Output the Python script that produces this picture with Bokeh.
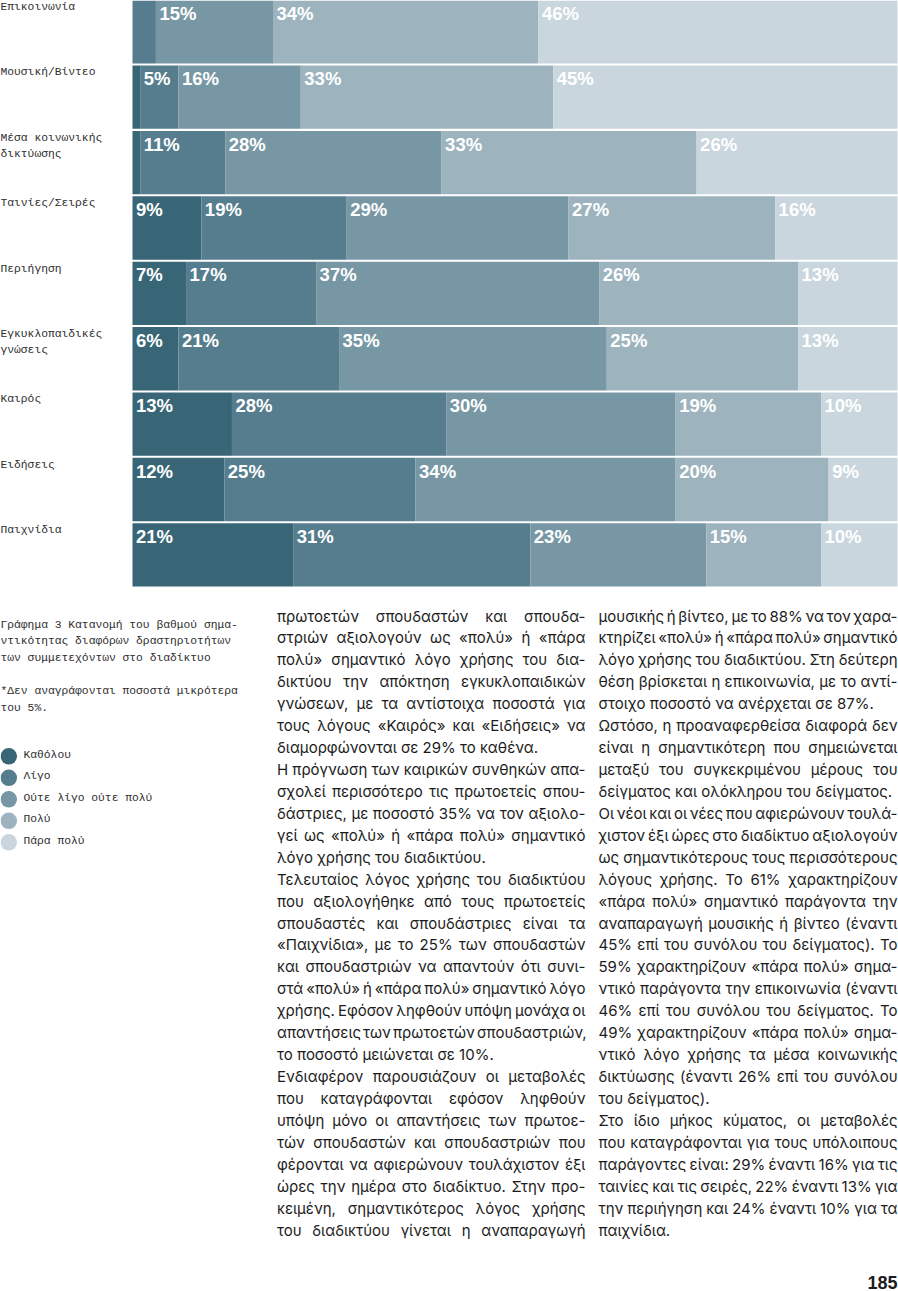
import glob
import os
import numpy as np
from bokeh.plotting import figure
from bokeh.models import Range1d
from bokeh.core.properties import value
from bokeh.embed import file_html
from bokeh.resources import INLINE

# ---------------- data ----------------
categories = ["Επικοινωνία", "Μουσική/Βίντεο", "Μέσα κοινωνικής\nδικτύωσης",
              "Ταινίες/Σειρές", "Περιήγηση", "Εγκυκλοπαιδικές\nγνώσεις",
              "Καιρός", "Ειδήσεις", "Παιχνίδια"]
levels = ["Καθόλου", "Λίγο", "Ούτε λίγο ούτε πολύ", "Πολύ", "Πάρα πολύ"]
not_at_all = [0, 1, 1, 9, 7, 6, 13, 12, 21]
a_little = [3, 5, 11, 19, 17, 21, 28, 25, 31]
neither = [15, 16, 28, 29, 37, 35, 30, 34, 23]
much = [34, 33, 33, 27, 26, 25, 19, 20, 15]
very_much = [46, 45, 26, 16, 13, 13, 10, 9, 10]
colors = ["#386677", "#567d8d", "#7897a4", "#9db3be", "#c9d6de"]
min_label = 5

caption_lines = ["Γράφημα 3 Κατανομή του βαθμού σημα-",
                 "ντικότητας διαφόρων δραστηριοτήτων",
                 "των συμμετεχόντων στο διαδίκτυο",
                 "",
                 "*Δεν αναγράφονται ποσοστά μικρότερα",
                 "του 5%."]

col1_paragraphs = [
    ["πρωτοετών σπουδαστών και σπουδα-",
     "στριών αξιολογούν ως «πολύ» ή «πάρα",
     "πολύ» σημαντικό λόγο χρήσης του δια-",
     "δικτύου την απόκτηση εγκυκλοπαιδικών",
     "γνώσεων, με τα αντίστοιχα ποσοστά για",
     "τους λόγους «Καιρός» και «Ειδήσεις» να",
     "διαμορφώνονται σε 29% το καθένα."],
    ["Η πρόγνωση των καιρικών συνθηκών απα-",
     "σχολεί περισσότερο τις πρωτοετείς σπου-",
     "δάστριες, με ποσοστό 35% να τον αξιολο-",
     "γεί ως «πολύ» ή «πάρα πολύ» σημαντικό",
     "λόγο χρήσης του διαδικτύου."],
    ["Τελευταίος λόγος χρήσης του διαδικτύου",
     "που αξιολογήθηκε από τους πρωτοετείς",
     "σπουδαστές και σπουδάστριες είναι τα",
     "«Παιχνίδια», με το 25% των σπουδαστών",
     "και σπουδαστριών να απαντούν ότι συνι-",
     "στά «πολύ» ή «πάρα πολύ» σημαντικό λόγο",
     "χρήσης. Εφόσον ληφθούν υπόψη μονάχα οι",
     "απαντήσεις των πρωτοετών σπουδαστριών,",
     "το ποσοστό μειώνεται σε 10%."],
    ["Ενδιαφέρον παρουσιάζουν οι μεταβολές",
     "που καταγράφονται εφόσον ληφθούν",
     "υπόψη μόνο οι απαντήσεις των πρωτοε-",
     "τών σπουδαστών και σπουδαστριών που",
     "φέρονται να αφιερώνουν τουλάχιστον έξι",
     "ώρες την ημέρα στο διαδίκτυο. Στην προ-",
     "κειμένη, σημαντικότερος λόγος χρήσης",
     "του διαδικτύου γίνεται η αναπαραγωγή",
     None],  # paragraph continues in next column
]
col2_paragraphs = [
    ["μουσικής ή βίντεο, με το 88% να τον χαρα-",
     "κτηρίζει «πολύ» ή «πάρα πολύ» σημαντικό",
     "λόγο χρήσης του διαδικτύου. Στη δεύτερη",
     "θέση βρίσκεται η επικοινωνία, με το αντί-",
     "στοιχο ποσοστό να ανέρχεται σε 87%."],
    ["Ωστόσο, η προαναφερθείσα διαφορά δεν",
     "είναι η σημαντικότερη που σημειώνεται",
     "μεταξύ του συγκεκριμένου μέρους του",
     "δείγματος και ολόκληρου του δείγματος."],
    ["Οι νέοι και οι νέες που αφιερώνουν τουλά-",
     "χιστον έξι ώρες στο διαδίκτυο αξιολογούν",
     "ως σημαντικότερους τους περισσότερους",
     "λόγους χρήσης. Το 61% χαρακτηρίζουν",
     "«πάρα πολύ» σημαντικό παράγοντα την",
     "αναπαραγωγή μουσικής ή βίντεο (έναντι",
     "45% επί του συνόλου του δείγματος). Το",
     "59% χαρακτηρίζουν «πάρα πολύ» σημα-",
     "ντικό παράγοντα την επικοινωνία (έναντι",
     "46% επί του συνόλου του δείγματος. Το",
     "49% χαρακτηρίζουν «πάρα πολύ» σημα-",
     "ντικό λόγο χρήσης τα μέσα κοινωνικής",
     "δικτύωσης (έναντι 26% επί του συνόλου",
     "του δείγματος)."],
    ["Στο ίδιο μήκος κύματος, οι μεταβολές",
     "που καταγράφονται για τους υπόλοιπους",
     "παράγοντες είναι: 29% έναντι 16% για τις",
     "ταινίες και τις σειρές, 22% έναντι 13% για",
     "την περιήγηση και 24% έναντι 10% για τα",
     "παιχνίδια."],
]
page_number = "185"

# ---------------- geometry ----------------
W, H = 898, 1291
BAR_X0 = 132.0
PX_PER_PCT = 7.65
ROW_Y0 = 31.3
ROW_PITCH = 65.39
BAR_H = 0.969


def X(px):
    return (px - BAR_X0) / PX_PER_PCT


def Y(py):
    return (py - ROW_Y0) / ROW_PITCH


def fs(px):
    return f"{px:.2f}px"


p = figure(width=W, height=H,
           x_range=Range1d(X(0), X(W)),
           y_range=Range1d(Y(H), Y(0)),
           x_axis_type=None, y_axis_type=None,
           toolbar_location=None, output_backend="svg", min_border=0)
p.grid.visible = False
p.outline_line_color = None
p.background_fill_color = "white"
p.border_fill_color = "white"

# ---------------- bars ----------------
series = [not_at_all, a_little, neither, much, very_much]
vals = np.array(series, dtype=float)
totals = vals.sum(axis=0)
shares = vals / totals * 100.0
ends = np.cumsum(shares, axis=0)
starts = ends - shares
rows = np.arange(len(categories))

for j in range(len(series)):
    p.hbar(y=rows, left=starts[j], right=ends[j], height=BAR_H,
           fill_color=colors[j], line_color=None)

lx, ly, lt = [], [], []
for j in range(len(series)):
    for i in range(len(categories)):
        if vals[j, i] >= min_label:
            lx.append(starts[j, i])
            ly.append(i - BAR_H / 2 + 20.3 / ROW_PITCH)
            lt.append(f"{int(vals[j, i])}%")
p.text(x=lx, y=ly, text=lt, x_offset=3.5, y_offset=-7, text_color="white",
       text_font=value("Liberation Sans"), text_font_style="bold",
       text_font_size=fs(18.5), text_baseline="alphabetic", text_align="left")

MONO_DY = -5.5
# category labels (mono, top of row)
cx, cy, ct = [], [], []
for i, c in enumerate(categories):
    for k, line in enumerate(c.split("\n")):
        cx.append(X(0))
        cy.append(i - 0.5 + (13.4 + 16 * k) / ROW_PITCH)
        ct.append(line)
p.text(x=cx, y=cy, text=ct, y_offset=MONO_DY, text_color="#2e2e2e",
       text_font=value("Liberation Mono"), text_font_size=fs(11.3),
       text_baseline="alphabetic", text_align="left")

# ---------------- caption ----------------
capx, capy, capt = [], [], []
for k, line in enumerate(caption_lines):
    if line:
        capx.append(X(0))
        capy.append(Y(629.5 + 16.7 * k))
        capt.append(line)
p.text(x=capx, y=capy, text=capt, y_offset=MONO_DY, text_color="#2e2e2e",
       text_font=value("Liberation Mono"), text_font_size=fs(11.3),
       text_baseline="alphabetic", text_align="left")

# ---------------- legend ----------------
leg_y = [Y(755.8 + 21.5 * j) for j in range(len(levels))]
p.scatter(x=[X(8.3)] * len(levels), y=leg_y, marker="circle",
          size=16.5, fill_color=colors, line_color=None)
p.text(x=[X(23)] * len(levels), y=[Y(759.6 + 21.5 * j) for j in range(len(levels))],
       text=levels, y_offset=MONO_DY, text_color="#2e2e2e",
       text_font=value("Liberation Mono"), text_font_size=fs(11.3),
       text_baseline="alphabetic", text_align="left")

# ---------------- body text (justified) ----------------


def find_fonts(patterns):
    out = []
    for base in ["/usr/share/fonts", "/usr/local/share/fonts",
                 os.path.expanduser("~/.fonts"), os.path.expanduser("~/.local/share/fonts")]:
        for pat in patterns:
            out += glob.glob(os.path.join(base, "**", pat), recursive=True)
    return out


BODY_FONT = "Liberation Sans"
BODY_FS = 16.3
measure = None
try:
    from PIL import ImageFont
    _f = None
    cand = [f for f in find_fonts(["Inter-Regular.ttf", "Inter-Regular.otf"])]
    if not cand:
        cand = [f for f in find_fonts(["Inter*.ttf", "Inter*.otf"])
                if "Italic" not in f and "Display" not in f and "Bold" not in f
                and "Light" not in f and "Medium" not in f and "Thin" not in f
                and "Black" not in f and "Semi" not in f and "Extra" not in f]
    if cand:
        _f = ImageFont.truetype(sorted(cand, key=len)[0], 100)
        BODY_FONT = "Inter"
        BODY_FS = 15.0
    else:
        lib = find_fonts(["LiberationSans-Regular.ttf"])
        _f = ImageFont.truetype(lib[0], 100) if lib else None
    if _f is not None:
        def measure(s):
            return _f.getlength(s) * BODY_FS / 100.0
except Exception:
    measure = None
if measure is None:
    def measure(s):
        return len(s) * 0.5 * BODY_FS


def layout_column(paragraphs, x0, x1, y0, pitch):
    xs, ys, ts = [], [], []
    k = 0
    for para in paragraphs:
        n = len(para)
        for li, line in enumerate(para):
            if line is None:
                continue
            last = (li == n - 1)
            base = y0 + pitch * k
            words = line.split(" ")
            if last or len(words) == 1:
                xs.append(X(x0)); ys.append(Y(base)); ts.append(line)
            else:
                widths = [measure(w) for w in words]
                gap = (x1 - x0 - sum(widths)) / (len(words) - 1)
                gap = max(gap, 2.0)
                xpos = x0
                for w, wd in zip(words, widths):
                    xs.append(X(xpos)); ys.append(Y(base)); ts.append(w)
                    xpos += wd + gap
            k += 1
    return xs, ys, ts


bx1, by1, bt1 = layout_column(col1_paragraphs, 276.5, 585.0, 623.0, 21.93)
bx2, by2, bt2 = layout_column(col2_paragraphs, 598.0, 897.0, 623.0, 21.93)
p.text(x=bx1 + bx2, y=by1 + by2, text=bt1 + bt2, y_offset=-7.5, text_color="#1c1c1c",
       text_font=value(BODY_FONT), text_font_size=fs(BODY_FS),
       text_baseline="alphabetic", text_align="left")

# page number
p.text(x=[X(897)], y=[Y(1289)], text=[page_number], y_offset=-7, text_color="#1c1c1c",
       text_font=value("Liberation Sans"), text_font_style="bold",
       text_font_size=fs(18), text_baseline="alphabetic", text_align="right")

open("out.html", "w").write(file_html(p, INLINE))
